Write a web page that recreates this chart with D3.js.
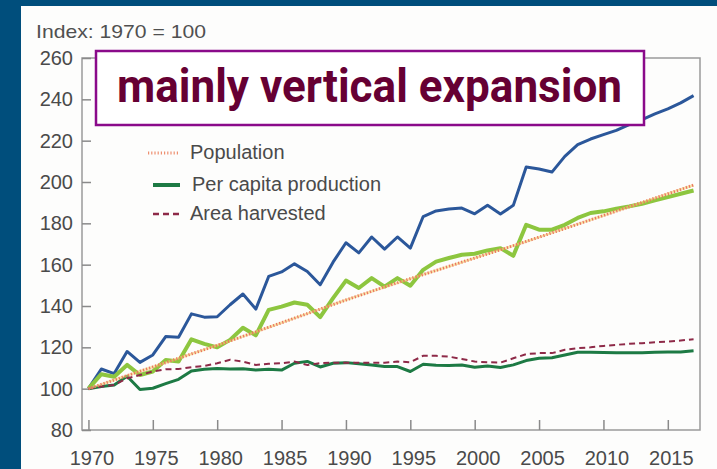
<!DOCTYPE html>
<html lang="en">
<head>
<meta charset="utf-8">
<title>Index 1970 = 100</title>
<script src="https://d3js.org/d3.v7.min.js" charset="utf-8"></script>
<style>
  body { margin: 0; background: #004e7c; }
  svg { display: block; }
</style>
</head>
<body>
<script>
// years on the x axis
var years = d3.range(1970, 2018);

// blue line (no legend entry)
var totalProduction = [100, 109.5, 107.3, 118, 112.7, 116.3, 125.2, 124.9, 136.2, 134.6,
  134.8, 140.6, 145.8, 138.5, 154.3, 156.5, 160.4, 156.7, 150.3, 161.2,
  170.6, 165.7, 173.4, 167.5, 173.4, 168, 183.3, 186, 186.9, 187.4,
  184.6, 188.7, 184.5, 188.7, 207.3, 206.3, 204.8, 212.4, 218.1, 220.8,
  222.9, 225, 227.8, 230.2, 233, 235.4, 238.3, 241.8];

// light green line (no legend entry)
var cropProduction = [100, 107, 105.8, 111.5, 106.6, 108.3, 113.9, 113.1, 123.9, 121.7,
  120, 123.6, 129.5, 125.8, 138.1, 139.7, 141.7, 140.6, 134.6, 143.8,
  152.3, 148.7, 153.5, 149.4, 153.5, 149.8, 157.5, 161.5, 163.2, 164.8,
  165.3, 166.9, 168, 164.3, 179.3, 176.9, 176.9, 179.3, 182.6, 185,
  185.8, 187.1, 188.2, 189.5, 191.1, 192.7, 194.3, 195.9];

var population = [100, 102.1, 104.2, 106.3, 108.4, 110.5, 112.6, 114.7, 116.8, 118.9,
  121, 123.1, 125.3, 127.5, 129.7, 131.9, 134.1, 136.3, 138.5, 140.7,
  142.9, 145, 147.1, 149.2, 151.2, 153.2, 155.2, 157.2, 159.2, 161.2,
  163.2, 165.2, 167.2, 169.2, 171.2, 173.3, 175.4, 177.5, 179.6, 181.7,
  183.8, 185.9, 188, 190.1, 192.2, 194.3, 196.4, 198.5];

var perCapita = [100, 101, 101.8, 106, 99.6, 100.2, 102.4, 104.5, 108.6, 109.4,
  109.7, 109.5, 109.6, 109, 109.4, 109, 112.3, 113.2, 110.5, 112.3,
  112.6, 112, 111.5, 110.7, 110.7, 108.3, 111.8, 111.3, 111.2, 111.5,
  110.4, 111, 110.2, 111.5, 113.6, 114.7, 115, 116.3, 117.6, 117.6,
  117.5, 117.4, 117.4, 117.4, 117.6, 117.8, 117.8, 118.3];

var areaHarvested = [100, 101, 101.8, 105, 106.6, 108.3, 109.4, 109.5, 110.4, 111,
  112.3, 114, 113.1, 111.5, 112, 112.3, 113.1, 111.5, 112.3, 112.6,
  112.6, 112.6, 112.6, 112.6, 113.1, 112.8, 115.9, 115.9, 115.5, 114.4,
  113.1, 112.8, 112.6, 114.7, 116.7, 117.2, 117.2, 118.8, 119.6, 120,
  120.7, 121.2, 121.7, 122, 122.5, 122.8, 123.3, 123.9];

var yTicks = [80, 100, 120, 140, 160, 180, 200, 220, 240, 260];
var xTicks = [1970, 1975, 1980, 1985, 1990, 1995, 2000, 2005, 2010, 2015];
var legendLabels = ["Population", "Per capita production", "Area harvested"];

var w = 717;
var h = 469;
// plot box edges (window.top is reserved, so prefixed names)
var boxLeft = 82, boxRight = 700, boxTop = 58, boxBottom = 430;
var font = "'Liberation Sans', Arial, sans-serif";

var svg = d3.select("body")
  .append("svg")
  .attr("width", w)
  .attr("height", h);

// blue frame and white panel
svg.append("rect")
  .attr("x", 0).attr("y", 0)
  .attr("width", w).attr("height", h)
  .attr("fill", "#004e7c");
svg.append("rect")
  .attr("x", 21).attr("y", 6)
  .attr("width", w - 21).attr("height", h - 6)
  .attr("fill", "#fdfdfc");

var x = d3.scaleLinear()
  .domain([1969.5, 2017.5])
  .range([boxLeft, boxRight]);

var y = d3.scaleLinear()
  .domain([80, 260])
  .range([boxBottom, boxTop]);

// plot box
svg.append("rect")
  .attr("x", boxLeft).attr("y", boxTop)
  .attr("width", boxRight - boxLeft).attr("height", boxBottom - boxTop)
  .attr("fill", "none")
  .attr("stroke", "#9a9a9a")
  .attr("stroke-width", 1.5);

// y axis, ticks pointing inward
var yAxis = svg.append("g")
  .attr("transform", "translate(" + boxLeft + ",0)")
  .call(d3.axisLeft(y).tickValues(yTicks).tickSizeInner(-9).tickSizeOuter(0).tickPadding(9));

// x axis, ticks pointing up
var xAxis = svg.append("g")
  .attr("transform", "translate(0," + boxBottom + ")")
  .call(d3.axisBottom(x).tickValues(xTicks).tickFormat(d3.format("d")).tickSizeInner(-10).tickSizeOuter(0).tickPadding(21));

[yAxis, xAxis].forEach(function(a) {
  a.select(".domain").remove();
  a.selectAll(".tick line").attr("stroke", "#8a8a8a").attr("stroke-width", 1.5);
  a.selectAll(".tick text")
    .attr("fill", "#4a4a4a")
    .attr("font-size", 20)
    .attr("font-family", font);
});
xAxis.selectAll(".tick text").attr("dx", 3);

svg.append("text")
  .attr("x", 36)
  .attr("y", 38)
  .attr("fill", "#505050")
  .attr("font-size", 19)
  .attr("font-family", font)
  .attr("textLength", 170)
  .attr("lengthAdjust", "spacingAndGlyphs")
  .text("Index: 1970 = 100");

var line = d3.line()
  .x(function(d, i) { return x(years[i]); })
  .y(function(d) { return y(d); });

// lines, back to front
svg.append("path")
  .datum(totalProduction)
  .attr("d", line)
  .attr("fill", "none")
  .attr("stroke", "#2b579a")
  .attr("stroke-width", 3)
  .attr("stroke-linejoin", "round");

svg.append("path")
  .datum(cropProduction)
  .attr("d", line)
  .attr("fill", "none")
  .attr("stroke", "#8dc63f")
  .attr("stroke-width", 4)
  .attr("stroke-linejoin", "round");

svg.append("path")
  .datum(perCapita)
  .attr("d", line)
  .attr("fill", "none")
  .attr("stroke", "#1d7a44")
  .attr("stroke-width", 3)
  .attr("stroke-linejoin", "round");

svg.append("path")
  .datum(areaHarvested)
  .attr("d", line)
  .attr("fill", "none")
  .attr("stroke", "#8e2a48")
  .attr("stroke-width", 2)
  .attr("stroke-dasharray", "6,4");

// population: faint yellow under red dots
svg.append("path")
  .datum(population)
  .attr("d", line)
  .attr("fill", "none")
  .attr("stroke", "#f3cf6e")
  .attr("stroke-opacity", 0.6)
  .attr("stroke-width", 2.5);
svg.append("path")
  .datum(population)
  .attr("d", line)
  .attr("fill", "none")
  .attr("stroke", "#ea7560")
  .attr("stroke-width", 3)
  .attr("stroke-dasharray", "1.2,2");

// legend
var legendY = [153, 185, 214];
var legendTextX = [190, 192, 190];
var legendX1 = [148, 153, 153];

var legend = svg.append("g");
legend.append("line")
  .attr("x1", legendX1[0]).attr("x2", 180)
  .attr("y1", legendY[0]).attr("y2", legendY[0])
  .attr("stroke", "#ee9070")
  .attr("stroke-width", 3)
  .attr("stroke-dasharray", "1.2,2");
legend.append("line")
  .attr("x1", legendX1[1]).attr("x2", 180)
  .attr("y1", legendY[1]).attr("y2", legendY[1])
  .attr("stroke", "#1d7a44")
  .attr("stroke-width", 4);
legend.append("line")
  .attr("x1", legendX1[2]).attr("x2", 180)
  .attr("y1", legendY[2]).attr("y2", legendY[2])
  .attr("stroke", "#8e2a48")
  .attr("stroke-width", 2.5)
  .attr("stroke-dasharray", "6,4");

legend.selectAll("text")
  .data(legendLabels)
  .enter()
  .append("text")
  .attr("x", function(d, i) { return legendTextX[i]; })
  .attr("y", function(d, i) { return legendY[i] + 6; })
  .attr("fill", "#4a4a4a")
  .attr("font-size", 20)
  .attr("font-family", font)
  .text(function(d) { return d; });

// annotation box
svg.append("rect")
  .attr("x", 96).attr("y", 51)
  .attr("width", 548).attr("height", 74)
  .attr("fill", "#ffffff")
  .attr("stroke", "#8a0a8a")
  .attr("stroke-width", 2.5);

svg.append("text")
  .attr("x", 117)
  .attr("y", 102)
  .attr("fill", "#660033")
  .attr("font-size", 46)
  .attr("font-weight", "bold")
  .attr("font-family", "Roboto, sans-serif")
  .attr("textLength", 505)
  .attr("lengthAdjust", "spacingAndGlyphs")
  .text("mainly vertical expansion");
</script>
</body>
</html>
